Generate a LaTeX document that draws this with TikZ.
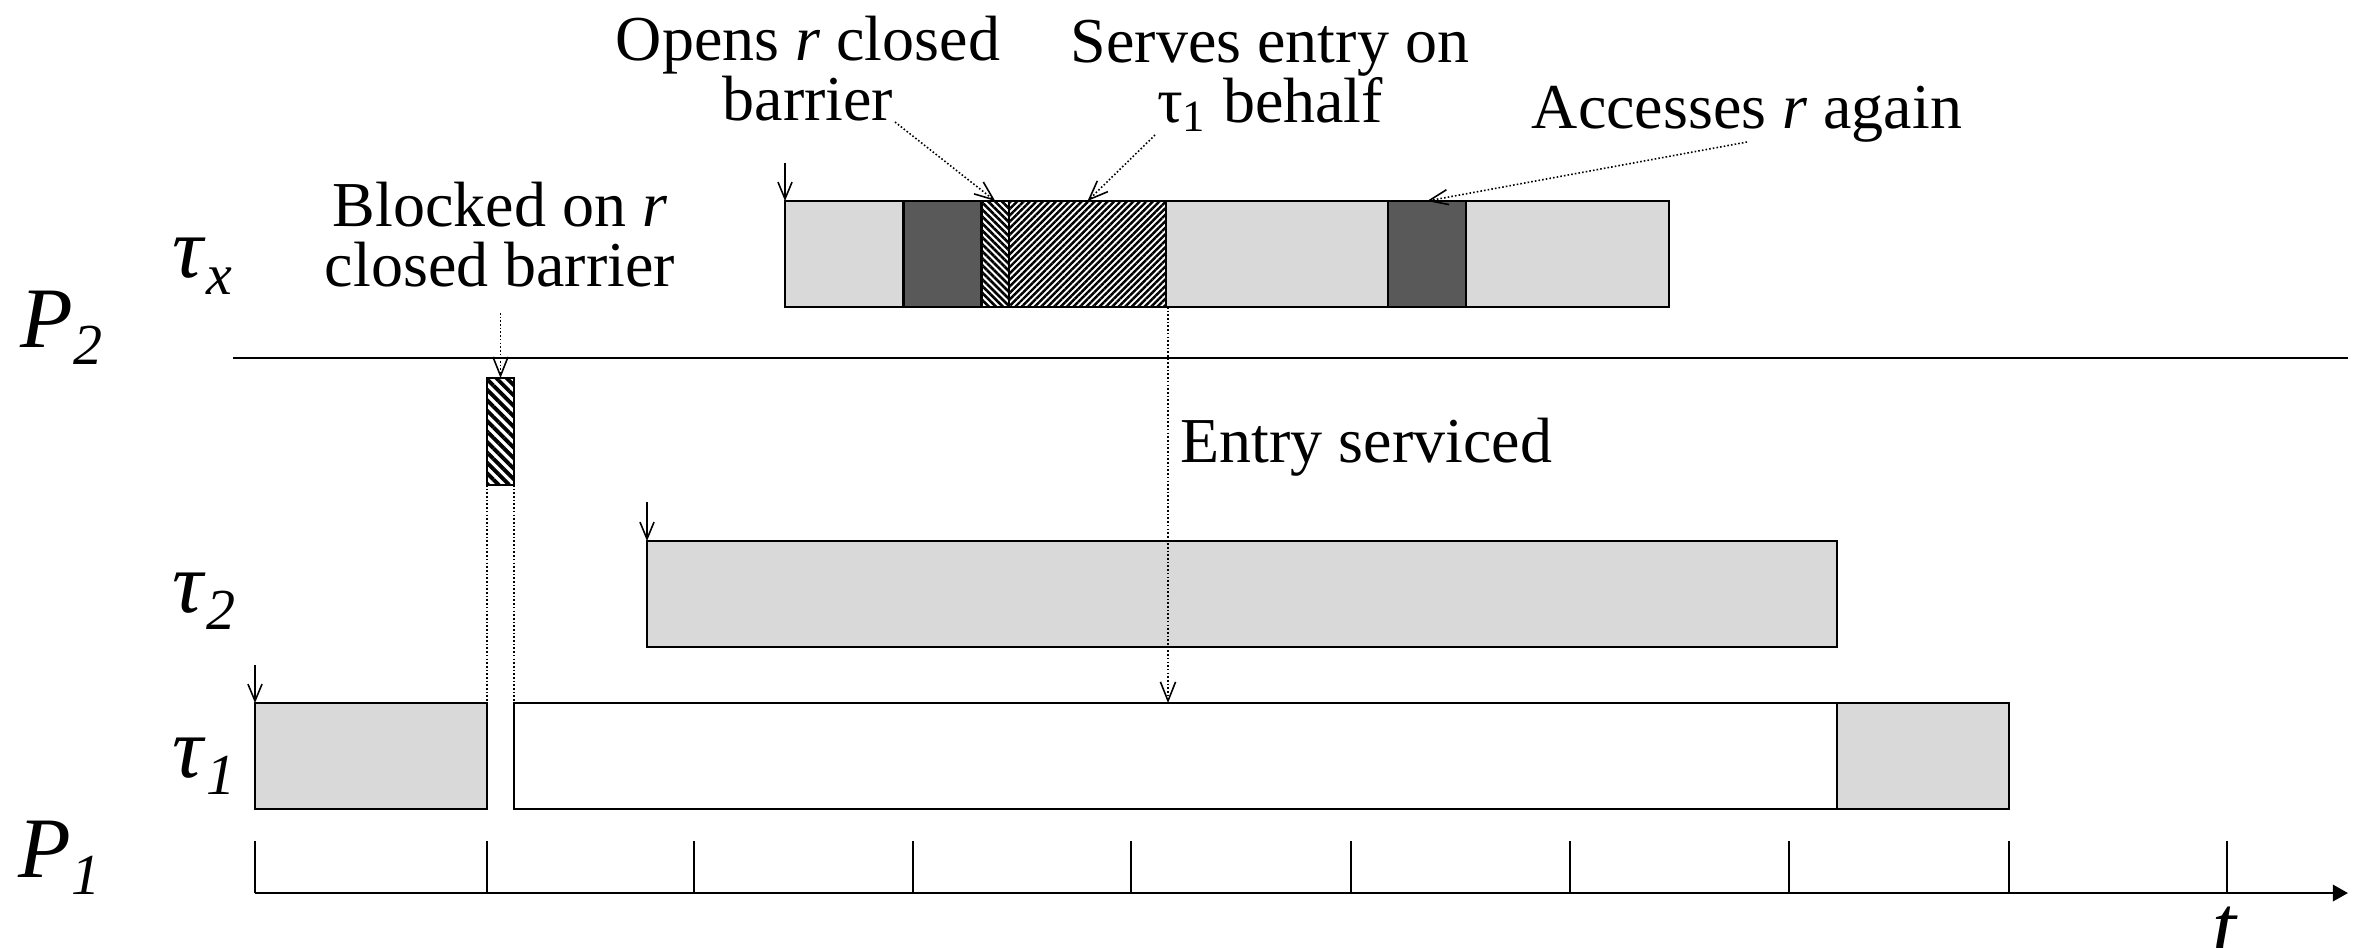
\documentclass[tikz,border=0pt]{standalone}
\usepackage{fontspec}
\setmainfont{Liberation Serif}
\usetikzlibrary{arrows.meta,patterns.meta,fit,calc}
\definecolor{lightbar}{HTML}{D9D9D9}
\definecolor{darkbar}{HTML}{595959}
% two centred lines whose baseline is the first line
\newcommand\twolines[2]{\vtop{\baselineskip=17.07pt\lineskiplimit=-20pt\halign{\hfil##\hfil\cr#1\cr#2\cr}}}
% task / processor label with a lowered italic index
\newcommand\tasklab[2]{\fontsize{24.5pt}{26pt}\selectfont\textit{#1}\raisebox{-5pt}{\fontsize{16.5pt}{18pt}\selectfont\textit{#2}}}
\begin{document}
\begin{tikzpicture}[x=0.01cm,y=-0.01cm,
  seg/.style={draw, line width=0.7pt, inner sep=0pt, outer sep=0pt},
  light/.style={seg, fill=lightbar},
  dark/.style={seg, fill=darkbar},
  blank/.style={seg, fill=white},
  hatchfine/.style={seg, pattern={Lines[angle=-45,distance=1.4pt,line width=0.75pt]}},
  hatchwide/.style={seg, pattern={Lines[angle=45,distance=1.3pt,line width=0.7pt]}},
  hatchblk/.style={seg, pattern={Lines[angle=-45,distance=2.1pt,line width=1.1pt]}},
  note/.style={font=\fontsize{18.2pt}{17.07pt}\selectfont, inner sep=0pt, anchor=base},
  lab/.style={inner sep=0pt, anchor=base west},
  pointer/.style={line width=0.45pt, dash pattern=on 0.45pt off 0.6pt, -{Straight Barb[length=5.4pt,width=4.3pt]}},
  dots/.style={line width=0.45pt, dash pattern=on 0.45pt off 0.6pt},
  release/.style={line width=0.45pt, -{Straight Barb[length=4.8pt,width=4pt]}},
  tick/.style={line width=0.5pt}
]
\useasboundingbox (0,0) rectangle (2355,947);

% processor labels and task labels
\node[lab] (p2) at (20,347) {\tasklab{P}{2}};
\node[lab] (p1) at (18,877) {\tasklab{P}{1}};
\node[lab] (ltx) at (172,277) {\tasklab{τ}{x}};
\node[lab] (lt2) at (172,612) {\tasklab{τ}{2}};
\node[lab] (lt1) at (172,777) {\tasklab{τ}{1}};

% separator between the two processors
\draw[line width=0.4pt] (233,358) -- (2348,358);

% task tau_x on P2
\node[light, fit={(785,201) (903.5,307)}] (x1) {};
\node[dark, fit={(903.5,201) (981.5,307)}] (d1) {};
\node[hatchfine, fit={(981.5,201) (1009,307)}] (h1) {};
\node[hatchwide, fit={(1009,201) (1166,307)}] (h2) {};
\node[light, fit={(1166,201) (1388,307)}] (x2) {};
\node[dark, fit={(1388,201) (1466,307)}] (d2) {};
\node[light, fit={(1466,201) (1669,307)}] (x3) {};

% blocked interval of tau_1
\node[hatchblk, fit={(487,378) (514,485)}] (blk) {};

% task tau_2 on P1
\node[light, fit={(647,541) (1837,647)}] (t2) {};

% task tau_1 on P1
\node[light, fit={(255,703) (487,809)}] (t1a) {};
\node[blank, fit={(514,703) (1837,809)}] (t1w) {};
\node[light, fit={(1837,703) (2009,809)}] (t1b) {};

% release arrows
\draw[release] ($(x1.north west)+(0,-38)$) -- (x1.north west);
\draw[release] ($(t2.north west)+(0,-39)$) -- (t2.north west);
\draw[release] ($(t1a.north west)+(0,-38)$) -- (t1a.north west);

% annotations
\node[note] (opens) at (808,60) {\twolines{Opens \textit{r} closed}{barrier}};
\node[note] (serves) at (1270,62) {\twolines{Serves entry on}{τ\textsubscript{1} behalf}};
\node[note] (again) at (1747,128) {Accesses \textit{r} again};
\node[note] (blocked) at (500,226) {\twolines{Blocked on \textit{r}}{closed barrier}};
\node[note, anchor=base west] (serviced) at (1180,462) {Entry serviced};

\coordinate (c1) at (895,122);
\coordinate (c2) at (1155,135);
\coordinate (c3) at (1747,142);
\coordinate (c4) at (500.5,313);
\coordinate (es) at (1168,307);

\draw[pointer] (c1) -- (h1.north);
\draw[pointer] (c2) -- (h2.north);
\draw[pointer] (c3) -- (d2.north);
\draw[pointer] (c4) -- (blk.north);
\draw[pointer] (es) -- (es |- t1w.north);
\draw[dots] (blk.south west) -- (blk.south west |- t1a.north);
\draw[dots] (blk.south east) -- (blk.south east |- t1w.north);

% time axis
\draw[line width=0.8pt, -{Triangle[length=4.3pt,width=4.6pt]}] (t1a.south west |- 0,893) -- (2348,893);
\foreach \x in {255,487,694,913,1131,1351,1570,1789,2009,2227}
  \draw[tick] (\x,841) -- (\x,893);
\node[inner sep=0pt, anchor=base, font=\fontsize{24.5pt}{26pt}\selectfont] (tlab) at (2225,955) {\textit{t}};
\end{tikzpicture}
\end{document}
